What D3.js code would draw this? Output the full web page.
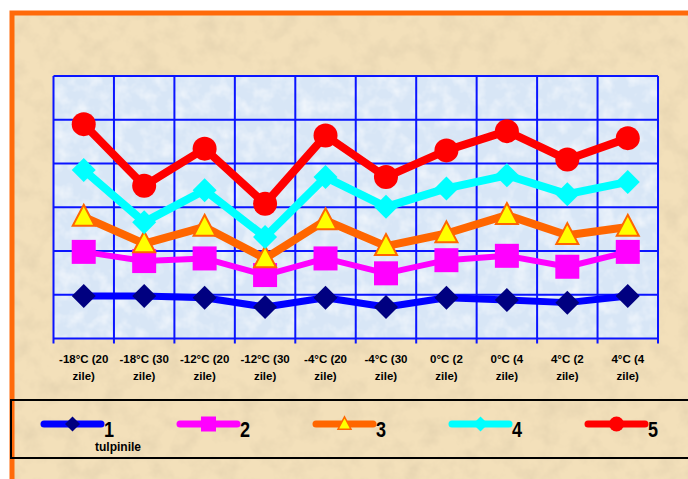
<!DOCTYPE html>
<html>
<head>
<meta charset="utf-8">
<script src="https://cdn.jsdelivr.net/npm/d3@7"></script>
<style>
  body { margin: 0; background: #ffffff; }
  svg { display: block; }
  .lbl { font-family: "Liberation Sans", Arial, sans-serif; font-weight: bold; fill: #000; }
</style>
</head>
<body>
<svg id="chart" width="688" height="479"></svg>
<script>
// Storage conditions (temperature, duration)
const categories = [
  "-18°C (20 zile)", "-18°C (30 zile)", "-12°C (20 zile)", "-12°C (30 zile)",
  "-4°C (20 zile)", "-4°C (30 zile)", "0°C (2 zile)", "0°C (4 zile)",
  "4°C (2 zile)", "4°C (4 zile)"
];
const seriesNames = ["1", "2", "3", "4", "5"];
const series1 = [0.97, 0.97, 0.93, 0.72, 0.93, 0.72, 0.93, 0.88, 0.82, 0.97];
const series2 = [1.98, 1.77, 1.83, 1.45, 1.83, 1.49, 1.79, 1.89, 1.64, 1.98];
const series3 = [2.78, 2.17, 2.55, 1.83, 2.70, 2.11, 2.40, 2.82, 2.36, 2.55];
const series4 = [3.85, 2.66, 3.39, 2.32, 3.69, 3.01, 3.43, 3.73, 3.30, 3.58];
const series5 = [4.90, 3.49, 4.34, 3.08, 4.64, 3.69, 4.30, 4.74, 4.09, 4.58];
const yTicks = [0, 1, 2, 3, 4, 5, 6];

const svg = d3.select("#chart");
const defs = svg.append("defs");

// paper grain for the backdrop
const paper = defs.append("filter").attr("id", "paper")
  .attr("x", 0).attr("y", 0).attr("width", "100%").attr("height", "100%");
paper.append("feTurbulence").attr("type", "fractalNoise")
  .attr("baseFrequency", "0.05").attr("numOctaves", 4).attr("seed", 7);
paper.append("feColorMatrix").attr("type", "matrix")
  .attr("values", "0 0 0 0 0.72  0 0 0 0 0.60  0 0 0 0 0.40  1.1 0 0 0 -0.45");

// soft mottling for the plot area
const mottle = defs.append("filter").attr("id", "mottle")
  .attr("x", 0).attr("y", 0).attr("width", "100%").attr("height", "100%");
mottle.append("feTurbulence").attr("type", "fractalNoise")
  .attr("baseFrequency", "0.07").attr("numOctaves", 3).attr("seed", 3);
mottle.append("feColorMatrix").attr("type", "matrix")
  .attr("values", "0 0 0 0 1  0 0 0 0 1  0 0 0 0 1  1.2 0 0 0 -0.5");

// outer frame
const frame = { x: 12, y: 13, w: 700, h: 490 };
svg.append("rect").attr("x", frame.x).attr("y", frame.y).attr("width", frame.w).attr("height", frame.h)
  .attr("fill", "#f3e0ba");
svg.append("rect").attr("x", frame.x).attr("y", frame.y).attr("width", frame.w).attr("height", frame.h)
  .attr("fill", "#000").attr("filter", "url(#paper)");
svg.append("rect").attr("x", frame.x).attr("y", frame.y).attr("width", frame.w).attr("height", frame.h)
  .attr("fill", "none").attr("stroke", "#ff6a0a").attr("stroke-width", 5);

const plot = { left: 53.5, right: 658, top: 76, bottom: 338.5 };

const x = d3.scaleBand().domain(categories).range([plot.left, plot.right]).padding(0);
const y = d3.scaleLinear().domain([0, 6]).range([plot.bottom, plot.top]);

// plot background
svg.append("rect").attr("x", plot.left).attr("y", plot.top)
  .attr("width", plot.right - plot.left).attr("height", plot.bottom - plot.top)
  .attr("fill", "#d8e6f6");
svg.append("rect").attr("x", plot.left).attr("y", plot.top)
  .attr("width", plot.right - plot.left).attr("height", plot.bottom - plot.top)
  .attr("fill", "#000").attr("filter", "url(#mottle)");

// grid
const grid = svg.append("g").attr("stroke", "#0a14ff").attr("stroke-width", 2);
grid.selectAll("line.h").data(yTicks).join("line")
  .attr("x1", plot.left).attr("x2", plot.right)
  .attr("y1", d => y(d)).attr("y2", d => y(d));
const bounds = categories.map(c => x(c)).concat([plot.right]);
grid.selectAll("line.v").data(bounds).join("line")
  .attr("x1", d => d).attr("x2", d => d)
  .attr("y1", plot.top).attr("y2", plot.bottom + 5);

// category labels on two lines
const axis = svg.append("g").attr("transform", `translate(0,${plot.bottom})`)
  .call(d3.axisBottom(x).tickSize(0).tickPadding(0));
axis.select(".domain").remove();
axis.selectAll(".tick text").remove();
axis.selectAll(".tick").each(function (d) {
  const idx = d.lastIndexOf(" ");
  const lines = [d.slice(0, idx), d.slice(idx + 1)];
  const t = d3.select(this).append("text").attr("class", "lbl")
    .attr("text-anchor", "middle").attr("font-size", 11.5);
  lines.forEach((s, i) => t.append("tspan").attr("x", 0).attr("y", 24 + i * 17).text(s));
});

// markers
function markerPath(kind, s) {
  if (kind === "diamond") return `M0,${-s}L${s},0L0,${s}L${-s},0Z`;
  if (kind === "square") return `M${-s},${-s}H${s}V${s}H${-s}Z`;
  if (kind === "triangle") return `M0,${-s * 1.1}L${s},${s * 0.8}L${-s},${s * 0.8}Z`;
  return d3.symbol(d3.symbolCircle, Math.PI * s * s)();
}

const seriesDefs = [
  { name: seriesNames[0], values: series1, line: "#0000ff", width: 7, kind: "diamond", fill: "#000080", stroke: "none", size: 12 },
  { name: seriesNames[1], values: series2, line: "#ff00ff", width: 6, kind: "square", fill: "#ff00ff", stroke: "none", size: 12 },
  { name: seriesNames[2], values: series3, line: "#ff6600", width: 8, kind: "triangle", fill: "#ffff00", stroke: "#ff6600", size: 11 },
  { name: seriesNames[3], values: series4, line: "#00ffff", width: 8, kind: "diamond", fill: "#00ffff", stroke: "none", size: 12 },
  { name: seriesNames[4], values: series5, line: "#ff0000", width: 8, kind: "circle", fill: "#ff0000", stroke: "none", size: 12 }
];

const cx = c => x(c) + x.bandwidth() / 2;
const lineGen = d3.line().x((d, i) => cx(categories[i])).y(d => y(d));

seriesDefs.forEach(s => {
  const g = svg.append("g");
  g.append("path").datum(s.values).attr("d", lineGen)
    .attr("fill", "none").attr("stroke", s.line).attr("stroke-width", s.width)
    .attr("stroke-linejoin", "round");
  g.selectAll("path.m").data(s.values).join("path")
    .attr("transform", (d, i) => `translate(${cx(categories[i])},${y(d)})`)
    .attr("d", markerPath(s.kind, s.size))
    .attr("fill", s.fill).attr("stroke", s.stroke).attr("stroke-width", 2);
});

// legend
svg.append("rect").attr("x", 11).attr("y", 400).attr("width", 700).attr("height", 58)
  .attr("fill", "none").attr("stroke", "#000").attr("stroke-width", 2);
const legend = svg.append("g");
seriesDefs.forEach((s, i) => {
  const x0 = 44 + i * 136, ly = 424;
  legend.append("line").attr("x1", x0).attr("x2", x0 + 57).attr("y1", ly).attr("y2", ly)
    .attr("stroke", s.line).attr("stroke-width", 7).attr("stroke-linecap", "round");
  legend.append("path").attr("transform", `translate(${x0 + 28.5},${ly})`)
    .attr("d", markerPath(s.kind, s.kind === "triangle" ? 6.5 : 7.5))
    .attr("fill", s.fill).attr("stroke", s.stroke).attr("stroke-width", 1.5);
  // condensed bold digit
  legend.append("text").attr("class", "lbl")
    .attr("transform", `translate(${x0 + 60},437) scale(0.82,1)`)
    .attr("font-size", 22).text(s.name);
});
legend.append("text").attr("class", "lbl").attr("x", 95).attr("y", 451)
  .attr("font-size", 12).text("tulpinile");
</script>
</body>
</html>
